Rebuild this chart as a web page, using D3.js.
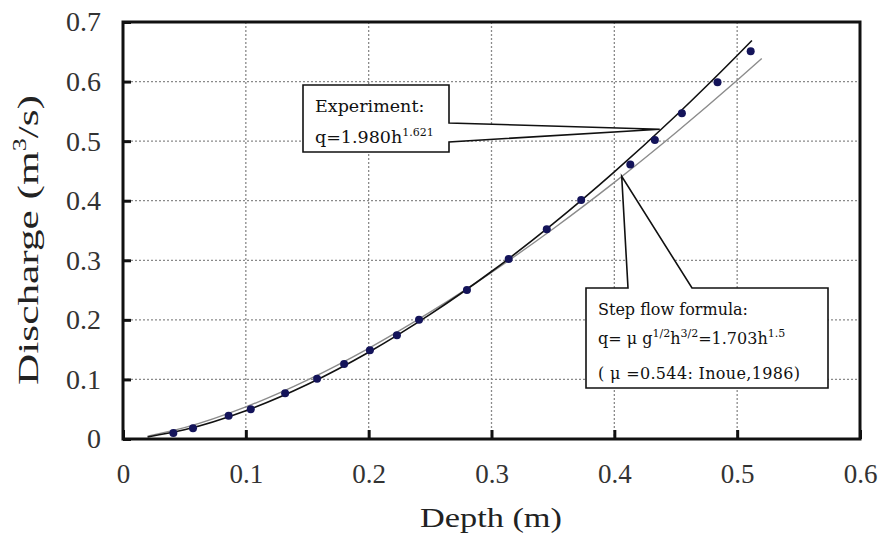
<!DOCTYPE html>
<html><head><meta charset="utf-8">
<script src="https://cdn.jsdelivr.net/npm/d3@7"></script>
<style>body{margin:0;background:#fff}</style>
</head><body><svg id="c" width="883" height="543"></svg>
<script>
// measured data points
const depth =     [0.041,0.057,0.086,0.104,0.132,0.158,0.180,0.201,0.223,0.241,0.280,0.314,0.345,0.373,0.413,0.433,0.455,0.484,0.511];
const discharge = [0.010,0.018,0.039,0.050,0.077,0.101,0.126,0.149,0.174,0.200,0.250,0.302,0.352,0.401,0.461,0.502,0.547,0.599,0.651];
// experiment fit curve
const expDepth =     [0.02,0.05,0.10,0.15,0.20,0.25,0.30,0.35,0.40,0.45,0.50,0.512];
const expDischarge = [0.0035,0.0154,0.0474,0.0914,0.1457,0.2092,0.2812,0.3610,0.4483,0.5426,0.6437,0.6689];
// step flow formula curve
const stepDepth =     [0.02,0.05,0.10,0.15,0.20,0.25,0.30,0.35,0.40,0.45,0.50,0.52];
const stepDischarge = [0.0048,0.0190,0.0539,0.0989,0.1523,0.2129,0.2798,0.3526,0.4308,0.5141,0.6021,0.6386];
const xTicks = [0,0.1,0.2,0.3,0.4,0.5,0.6];
const xTickLabels = ["0","0.1","0.2","0.3","0.4","0.5","0.6"];
const yTicks = [0,0.1,0.2,0.3,0.4,0.5,0.6,0.7];
const yTickLabels = ["0","0.1","0.2","0.3","0.4","0.5","0.6","0.7"];

const svg = d3.select("#c");
const X0 = 123, X1 = 860, Y0 = 439, Y1 = 22;
const x = d3.scaleLinear().domain([0,0.6]).range([X0,X1]);
const y = d3.scaleLinear().domain([0,0.7]).range([Y0,Y1]);
const serif = "'Liberation Serif','Times New Roman',serif";
const boxFont = "'DejaVu Serif',serif";

// grid
const grid = svg.append("g").attr("stroke","#8a8a8a").attr("stroke-width",1.3).attr("stroke-dasharray","2,2");
grid.selectAll("line.v").data(xTicks.slice(1,-1)).join("line")
  .attr("x1",d=>x(d)).attr("x2",d=>x(d)).attr("y1",Y1).attr("y2",Y0);
grid.selectAll("line.h").data(yTicks.slice(1,-1)).join("line")
  .attr("y1",d=>y(d)).attr("y2",d=>y(d)).attr("x1",X0).attr("x2",X1);

// axes
const xAxis = d3.axisBottom(x).tickValues(xTicks).tickSize(-9).tickPadding(25)
  .tickFormat((d,i)=>xTickLabels[i]);
const gx = svg.append("g").attr("transform",`translate(0,${Y0})`).call(xAxis);
gx.select(".domain").remove();
gx.selectAll(".tick line").attr("stroke","#111").attr("stroke-width",3);
gx.selectAll(".tick text").attr("font-family",serif).attr("font-size",27).attr("fill","#333");

const yAxis = d3.axisLeft(y).tickValues(yTicks).tickSize(-8).tickPadding(22)
  .tickFormat((d,i)=>yTickLabels[i]);
const gy = svg.append("g").attr("transform",`translate(${X0},0)`).call(yAxis);
gy.select(".domain").remove();
gy.selectAll(".tick line").attr("stroke","#111").attr("stroke-width",3);
gy.selectAll(".tick text").attr("font-family",serif).attr("font-size",28).attr("fill","#333");

// curves
const line = d3.line().x(d=>x(d[0])).y(d=>y(d[1])).curve(d3.curveMonotoneX);
svg.append("path").datum(d3.zip(stepDepth,stepDischarge)).attr("d",line)
  .attr("fill","none").attr("stroke","#8c8c8c").attr("stroke-width",1.4);
svg.append("path").datum(d3.zip(expDepth,expDischarge)).attr("d",line)
  .attr("fill","none").attr("stroke","#111").attr("stroke-width",1.6);

// points
svg.append("g").selectAll("circle").data(d3.zip(depth,discharge)).join("circle")
  .attr("cx",d=>x(d[0])).attr("cy",d=>y(d[1])).attr("r",4).attr("fill","#14145a");

// frame
svg.append("rect").attr("x",X0).attr("y",Y1).attr("width",X1-X0).attr("height",Y0-Y1)
  .attr("fill","none").attr("stroke","#111").attr("stroke-width",3);

// callout: experiment
const apE = [x(0.437), y(0.52)];
svg.append("path").attr("d",`M303,85 H449 V123 L${apE[0]},${apE[1]} L449,142 V152 H303 Z`)
  .attr("fill","#fff").attr("stroke","#111").attr("stroke-width",1.6);
const tE = svg.append("g").attr("font-family",boxFont).attr("fill","#111");
tE.append("text").attr("x",315).attr("y",112).attr("font-size",17.5).text("Experiment:");
const tE2 = tE.append("text").attr("x",315).attr("y",143).attr("font-size",17.5);
tE2.append("tspan").text("q=1.980h");
tE2.append("tspan").attr("font-size",11).attr("dy",-7).text("1.621");

// callout: step flow
const apS = [x(0.406), y(0.441)];
svg.append("path").attr("d",`M586,288 H628 L${apS[0]},${apS[1]} L692,288 H828 V388 H586 Z`)
  .attr("fill","#fff").attr("stroke","#111").attr("stroke-width",1.6);
const tS = svg.append("g").attr("font-family",boxFont).attr("fill","#111").attr("font-size",16);
tS.append("text").attr("x",598).attr("y",315).text("Step flow formula:");
const l2 = tS.append("text").attr("x",598).attr("y",344);
l2.append("tspan").text("q= μ g");
l2.append("tspan").attr("font-size",11).attr("dy",-7).text("1/2");
l2.append("tspan").attr("dy",7).text("h");
l2.append("tspan").attr("font-size",11).attr("dy",-7).text("3/2");
l2.append("tspan").attr("dy",7).text("=1.703h");
l2.append("tspan").attr("font-size",11).attr("dy",-7).text("1.5");
tS.append("text").attr("x",598).attr("y",379).attr("textLength",202).attr("lengthAdjust","spacing")
  .text("( μ =0.544: Inoue,1986)");

// axis titles
svg.append("text").attr("x",491).attr("y",527).attr("text-anchor","middle")
  .attr("font-family",serif).attr("font-size",28).attr("fill","#222")
  .attr("textLength",142).attr("lengthAdjust","spacingAndGlyphs").text("Depth (m)");
const yt = svg.append("text").attr("transform","translate(38,240) rotate(-90)").attr("text-anchor","middle")
  .attr("font-family",serif).attr("font-size",30).attr("fill","#222")
  .attr("textLength",290).attr("lengthAdjust","spacingAndGlyphs");
yt.append("tspan").text("Discharge (m");
yt.append("tspan").attr("font-size",18).attr("dy",-12).text("3");
yt.append("tspan").attr("dy",12).text("/s)");
</script></body></html>
